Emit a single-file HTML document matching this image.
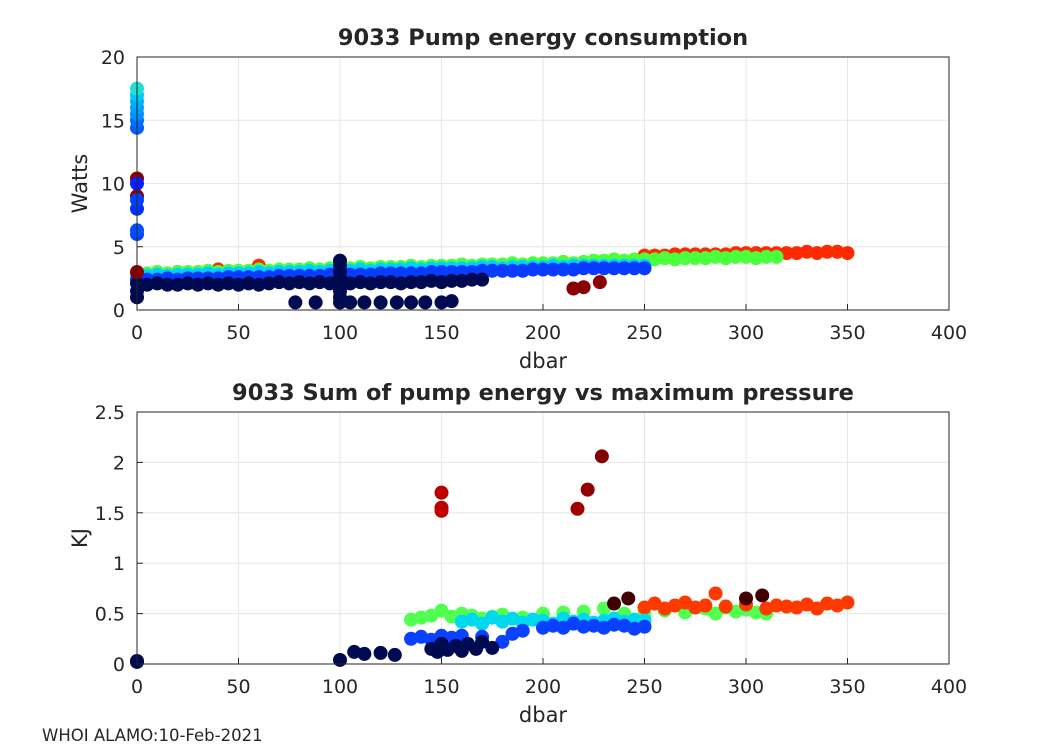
<!DOCTYPE html>
<html><head><meta charset="utf-8">
<style>
body{margin:0;background:#fff;width:1050px;height:750px;overflow:hidden}
svg text{font-family:"DejaVu Sans","Liberation Sans",sans-serif;fill:#262626}
</style></head>
<body>
<svg id="c" width="1050" height="750"></svg>
<script>
// ---------- data: top plot (pressure dbar, watts) ----------
const topNavyP=[0,5,10,15,20,25,30,35,40,45,50,55,60,65,70,75,80,85,90,95,100,105,110,115,120,125,130,135,140,145,150,155,160,165,170,0,0,78,88,100,105,112,120,128,135,142,150,155,100,100,100,100,100,100,100];
const topNavyW=[2.1,2.0,2.1,2.0,2.0,2.1,2.0,2.1,2.0,2.1,2.0,2.1,2.0,2.1,2.2,2.1,2.2,2.1,2.2,2.1,2.2,2.1,2.2,2.1,2.2,2.2,2.1,2.2,2.2,2.3,2.2,2.3,2.3,2.4,2.4,1.0,1.5,0.6,0.6,0.6,0.6,0.6,0.6,0.6,0.6,0.6,0.6,0.7,1.0,1.5,2.0,2.5,3.0,3.5,3.9];
const topBlueP=[0,5,10,15,20,25,30,35,40,45,50,55,60,65,70,75,80,85,90,95,100,105,110,115,120,125,130,135,140,145,150,155,160,165,170,175,180,185,190,195,200,205,210,215,220,225,230,235,240,245,250];
const topBlueW=[2.4,2.4,2.4,2.5,2.4,2.5,2.5,2.5,2.5,2.6,2.6,2.6,2.6,2.6,2.7,2.7,2.7,2.7,2.7,2.8,2.8,2.8,2.8,2.8,2.9,2.9,2.9,2.9,2.9,3.0,3.0,3.0,3.0,3.0,3.1,3.1,3.1,3.1,3.1,3.2,3.2,3.2,3.2,3.2,3.3,3.3,3.3,3.3,3.3,3.3,3.3];
const topCyanP=[0,5,10,15,20,25,30,35,40,45,50,55,60,65,70,75,80,85,90,95,100,105,110,115,120,125,130,135,140,145,150,155,160,165,170,175,180,185,190,195,200,205,210,215,220,225,230,235,240,245,250];
const topCyanW=[2.7,2.7,2.8,2.7,2.8,2.8,2.8,2.9,2.8,2.9,2.9,2.9,3.0,2.9,3.0,3.0,3.0,3.1,3.0,3.1,3.1,3.1,3.2,3.1,3.2,3.2,3.2,3.3,3.2,3.3,3.3,3.3,3.3,3.3,3.4,3.4,3.3,3.4,3.4,3.4,3.4,3.5,3.4,3.5,3.5,3.5,3.5,3.5,3.5,3.5,3.5];
const topGreenP=[0,5,10,15,20,25,30,35,40,45,50,55,60,65,70,75,80,85,90,95,100,105,110,115,120,125,130,135,140,145,150,155,160,165,170,175,180,185,190,195,200,205,210,215,220,225,230,235,240,245,250,255,260,265,270,275,280,285,290,295,300,305,310,315];
const topGreenW=[2.9,2.9,3.0,2.9,3.0,3.0,3.0,3.1,3.0,3.1,3.1,3.1,3.2,3.1,3.2,3.2,3.2,3.3,3.2,3.3,3.3,3.3,3.4,3.3,3.4,3.4,3.4,3.5,3.4,3.5,3.5,3.5,3.6,3.5,3.6,3.6,3.6,3.7,3.6,3.7,3.7,3.7,3.8,3.7,3.8,3.9,3.9,4.0,3.9,4.0,4.0,4.0,4.1,4.0,4.1,4.1,4.1,4.2,4.1,4.2,4.2,4.1,4.2,4.2];
const topRedP=[0,20,40,60,250,255,260,265,270,275,280,285,290,295,300,305,310,315,320,325,330,335,340,345,350];
const topRedW=[2.9,3.0,3.2,3.5,4.3,4.3,4.3,4.4,4.4,4.4,4.4,4.4,4.4,4.5,4.5,4.5,4.5,4.5,4.5,4.5,4.6,4.5,4.6,4.6,4.5];
const topDarkRedP=[0,0,0,215,220,228];
const topDarkRedW=[10.4,9.0,3.0,1.7,1.8,2.2];
const topSpikeP=[0,0,0,0,0,0,0,0,0,0,0,0];
const topSpikeW=[6.0,6.3,8.0,8.7,10.0,14.4,15.0,15.5,16.0,16.5,17.0,17.5];
// ---------- data: bottom plot (max pressure dbar, KJ) ----------
const botNavyP=[0,0,100,107,112,120,127,145,148,150,153,157,160,163,167,170,175];
const botNavyK=[0.02,0.03,0.04,0.12,0.10,0.11,0.09,0.15,0.12,0.20,0.14,0.18,0.13,0.20,0.15,0.22,0.16];
const botBlueP=[135,140,145,150,155,160,170,180,185,190,200,205,210,215,220,225,230,235,240,245,250];
const botBlueK=[0.25,0.27,0.24,0.28,0.26,0.28,0.27,0.22,0.30,0.33,0.36,0.38,0.36,0.40,0.37,0.38,0.36,0.39,0.38,0.35,0.37];
const botCyanP=[160,165,170,175,180,185,190,195,200,205,210,215,220,225,230,235,240,245,250];
const botCyanK=[0.42,0.44,0.40,0.46,0.42,0.45,0.41,0.44,0.43,0.40,0.45,0.42,0.44,0.41,0.43,0.45,0.42,0.44,0.43];
const botGreenP=[135,140,145,150,155,160,165,170,175,180,190,200,210,220,230,240,250,260,270,280,285,290,295,300,305,310];
const botGreenK=[0.44,0.46,0.48,0.53,0.47,0.50,0.48,0.45,0.47,0.49,0.46,0.50,0.51,0.52,0.55,0.50,0.49,0.53,0.51,0.55,0.50,0.56,0.52,0.54,0.51,0.50];
const botRedP=[250,255,260,265,270,275,280,285,290,300,310,315,320,325,330,335,340,345,350];
const botRedK=[0.56,0.60,0.55,0.58,0.61,0.56,0.58,0.70,0.57,0.59,0.55,0.58,0.57,0.56,0.59,0.55,0.60,0.58,0.61];
const botDarkRedP=[150,150,150,217,222,229,235,242,300,308];
const botDarkRedK=[1.70,1.55,1.52,1.54,1.73,2.06,0.60,0.65,0.65,0.68];

const svg=document.getElementById('c');const NS='http://www.w3.org/2000/svg';
function mk(t,a,parent){const e=document.createElementNS(NS,t);for(const k in a)e.setAttribute(k,a[k]);(parent||svg).appendChild(e);return e;}
function axes(box,ymax,ystep,ylabels,title,ylab,nm){
  const x=v=>box.l+(box.r-box.l)*v/400, y=v=>box.b-(box.b-box.t)*v/ymax;
  const g=mk('g',{});
  
  
  mk('rect',{x:box.l,y:box.t,width:box.r-box.l,height:box.b-box.t,fill:'#fff'},g);
  for(let v=0;v<=400;v+=50){mk('line',{x1:x(v),x2:x(v),y1:box.t,y2:box.b,stroke:'#e6e6e6'},g);
    const t=mk('text',{x:x(v),y:box.b+29,'text-anchor':'middle','font-size':19},g);t.textContent=v;
    
    mk('line',{x1:x(v),x2:x(v),y1:box.b,y2:box.b-6,stroke:'#262626'},g);}
  ylabels.forEach((lab,i)=>{const v=i*ystep;mk('line',{x1:box.l,x2:box.r,y1:y(v),y2:y(v),stroke:'#e6e6e6'},g);
    const t=mk('text',{x:box.l-12,y:y(v)+7,'text-anchor':'end','font-size':19},g);t.textContent=lab;
    
    mk('line',{x1:box.l,x2:box.l+6,y1:y(v),y2:y(v),stroke:'#262626'},g);});
  const tt=mk('text',{x:(box.l+box.r)/2,y:box.t-12,'text-anchor':'middle','font-size':22.5,'font-weight':'bold'});tt.textContent=title;
  
  const xl=mk('text',{x:(box.l+box.r)/2,y:box.b+58,'text-anchor':'middle','font-size':21});xl.textContent='dbar';
  
  const yl=mk('text',{x:0,y:0,'text-anchor':'middle','font-size':21,transform:`translate(${box.l-50},${(box.t+box.b)/2}) rotate(-90)`});yl.textContent=ylab;
  
  return {x,y};
}
function pts(ax,P,V,col,nm){const g=mk('g',{});
  
  
  P.forEach((p,i)=>{const c=mk('circle',{cx:ax.x(p),cy:ax.y(V[i]),r:7,fill:Array.isArray(col)?col[i]:col},g);
    });}
function frame(box){mk('rect',{x:box.l,y:box.t,width:box.r-box.l,height:box.b-box.t,fill:'none',stroke:'#262626','stroke-width':1});}

const B1={l:137,r:949,t:57,b:310};
const a1=axes(B1,20,5,['0','5','10','15','20'],'9033 Pump energy consumption','Watts','top');
pts(a1,topRedP,topRedW,'#ff2a00','top-red-series');
pts(a1,topGreenP,topGreenW,'#4cff3c','top-green-series');
pts(a1,topCyanP,topCyanW,'#00d0ff','top-cyan-series');
pts(a1,topBlueP,topBlueW,'#0a3cff','top-blue-series');
pts(a1,topNavyP,topNavyW,'#000a50','top-navy-series');
pts(a1,topDarkRedP,topDarkRedW,'#8a0000','top-darkred-series');
pts(a1,topSpikeP,topSpikeW,['#0040ff','#0050ff','#0030ff','#0040ff','#0020ff','#0060ff','#0070ff','#0090ff','#00a0ff','#00b0ff','#00c8ff','#20e0d0'],'top-spike-series');
frame(B1);

const B2={l:137,r:949,t:412,b:664};
const a2=axes(B2,2.5,0.5,['0','0.5','1','1.5','2','2.5'],'9033 Sum of pump energy vs maximum pressure','KJ','bottom');
pts(a2,botGreenP,botGreenK,'#50ff50','bottom-green-series');
pts(a2,botRedP,botRedK,'#ff3a00','bottom-red-series');
pts(a2,botCyanP,botCyanK,'#00d8f0','bottom-cyan-series');
pts(a2,botBlueP,botBlueK,'#0a40ff','bottom-blue-series');
pts(a2,botNavyP,botNavyK,'#000a50','bottom-navy-series');
pts(a2,botDarkRedP,botDarkRedK,['#c00000','#c00000','#c00000','#a00000','#900000','#800000','#400000','#400000','#400000','#400000'],'bottom-darkred-series');
frame(B2);

const f=mk('text',{x:42,y:741,'font-size':16.5});f.textContent='WHOI ALAMO:10-Feb-2021';

</script>
</body></html>
